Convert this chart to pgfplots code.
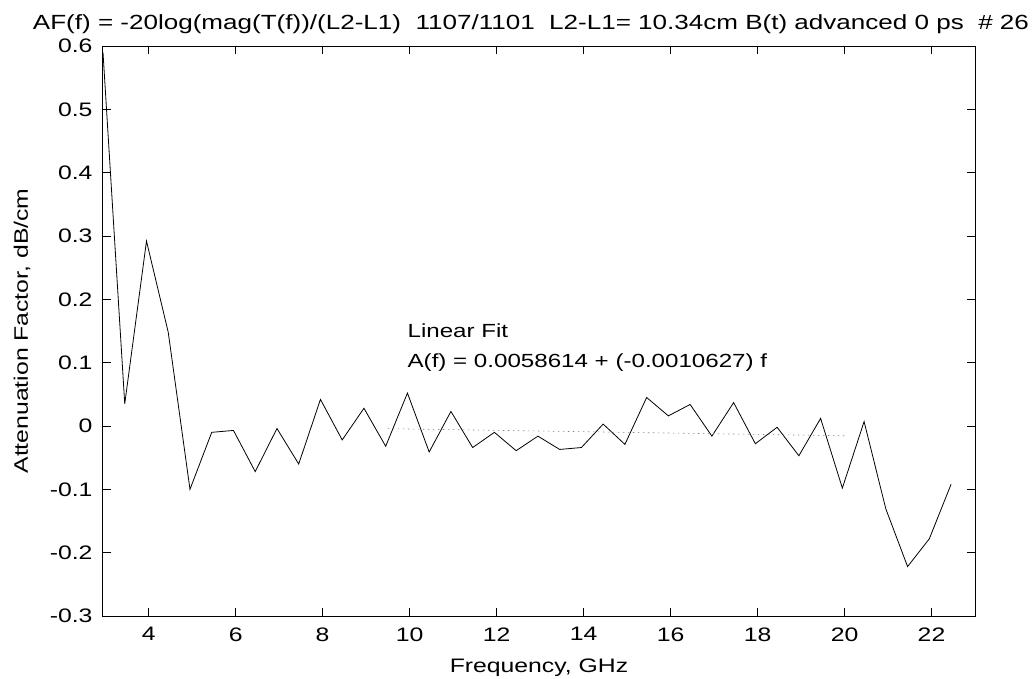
\documentclass[border=0pt]{standalone}
\usepackage{pgfplots}
\pgfplotsset{compat=1.18}
\usepackage{fontspec}
\setmainfont{Liberation Sans}[FakeStretch=1.27]
\begin{document}
\begin{tikzpicture}
\begin{axis}[
  at={(0,0)}, anchor=south west,
  scale only axis, width=872bp, height=570bp,
  xmin=2.95, xmax=23, ymin=-0.3, ymax=0.6,
  xtick={4,6,...,22},
  ytick={-0.3,-0.2,-0.1,0,0.1,0.2,0.3,0.4,0.5,0.6},
  tick align=inside, major tick length=8bp,
  tick style={black, line width=0.8bp},
  axis line style={black, line width=1bp},
  /pgf/number format/assume math mode=true,
  tick label style={font=\fontsize{19.5bp}{22bp}\selectfont},
  yticklabel style={/pgf/number format/fixed, /pgf/number format/precision=1, xshift=-7bp},
  xticklabel style={yshift=-8bp},
  xlabel={Frequency, GHz},
  ylabel={Attenuation Factor, dB/cm},
  label style={font=\fontsize{19.5bp}{22bp}\selectfont},
  xlabel style={at={(axis description cs:0.5,0)}, anchor=base, yshift=-56bp},
  ylabel style={at={(axis description cs:0,0.5)}, anchor=base, yshift=75bp},
  clip=false,
]
\addplot[black, line width=0.8bp] coordinates {
(2.95,0.59) (3.45,0.035) (3.95,0.292) (4.45,0.148) (4.95,-0.100)
(5.45,-0.010) (5.95,-0.007) (6.45,-0.072) (6.95,-0.004) (7.45,-0.060)
(7.95,0.042) (8.45,-0.022) (8.95,0.028) (9.45,-0.032) (9.95,0.052)
(10.45,-0.041) (10.95,0.023) (11.45,-0.034) (11.95,-0.010) (12.45,-0.039)
(12.95,-0.016) (13.45,-0.037) (13.95,-0.034) (14.45,0.003) (14.95,-0.029)
(15.45,0.045) (15.95,0.016) (16.45,0.034) (16.95,-0.016) (17.45,0.037)
(17.95,-0.028) (18.45,-0.002) (18.95,-0.047) (19.45,0.012) (19.95,-0.098)
(20.45,0.007) (20.95,-0.131) (21.45,-0.222) (21.95,-0.178) (22.45,-0.092)
};
\addplot[gray, line width=0.6bp, dash pattern=on 1.5bp off 3.5bp] coordinates {
(9.5,-0.0042) (20.0,-0.0154)
};
\node[anchor=base west, font=\fontsize{19bp}{22bp}\selectfont, inner sep=0pt] at (axis cs:9.95,0.139) {Linear Fit};
\node[anchor=base west, font=\fontsize{19bp}{22bp}\selectfont, inner sep=0pt] at (axis cs:9.95,0.092) {A(f) = 0.0058614 + (-0.0010627) f};
\end{axis}
\node[anchor=base, inner sep=0pt, font=\fontsize{20.5bp}{24bp}\selectfont] at (428bp,586bp) {AF(f) = -20log(mag(T(f))/(L2-L1)~~1107/1101~~L2-L1= 10.34cm B(t) advanced 0 ps~~\# 26};
\pgfresetboundingbox
\path[use as bounding box] (-103bp,-63bp) rectangle (931bp,616bp);
\end{tikzpicture}
\end{document}
